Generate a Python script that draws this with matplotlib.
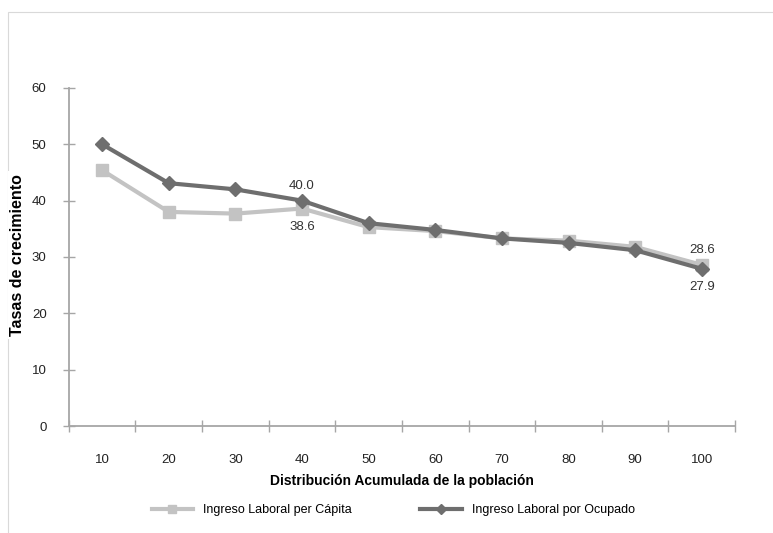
import matplotlib.pyplot as plt
from matplotlib.patches import Rectangle
from matplotlib.ticker import FixedLocator, NullFormatter

# datos
categorias = ["10", "20", "30", "40", "50", "60", "70", "80", "90", "100"]
per_capita = [45.4, 38.0, 37.7, 38.6, 35.3, 34.6, 33.3, 32.9, 31.8, 28.6]
por_ocupado = [50.0, 43.1, 42.0, 40.0, 36.0, 34.8, 33.3, 32.5, 31.2, 27.9]

plt.rcParams['font.family'] = ['Liberation Sans Narrow', 'Liberation Sans', 'DejaVu Sans']

fig = plt.figure(figsize=(7.73, 5.33), dpi=100)
ax = fig.add_axes([0.089, 0.2007, 0.862, 0.6343])

# borde gris del area del grafico
fig.patches.append(Rectangle((8 / 773, -0.1), 1.1, 1 - 12 / 533 + 0.1, transform=fig.transFigure,
                             fill=False, edgecolor='#d9d9d9', linewidth=0.8))

x = list(range(len(categorias)))
light = '#c3c3c3'
dark = '#6e6e6e'
ax.plot(x, per_capita, color=light, linewidth=3, marker='s', markersize=8,
        label='Ingreso Laboral per Cápita', zorder=2)
ax.plot(x, por_ocupado, color=dark, linewidth=3, marker='D', markersize=7,
        label='Ingreso Laboral por Ocupado', zorder=3)

ax.text(3, por_ocupado[3] + 1.6, '40.0', ha='center', va='bottom', fontsize=9.5, color='#333333')
ax.text(3, per_capita[3] - 2.2, '38.6', ha='center', va='top', fontsize=9.5, color='#333333')
ax.text(9, per_capita[9] + 1.6, '28.6', ha='center', va='bottom', fontsize=9.5, color='#333333')
ax.text(9, por_ocupado[9] - 2.2, '27.9', ha='center', va='top', fontsize=9.5, color='#333333')

ax.set_xlim(-0.5, len(categorias) - 0.5)
ax.set_ylim(0, 60)
ax.set_yticks(range(0, 61, 10))

ax.xaxis.set_major_locator(FixedLocator([i - 0.5 for i in range(len(categorias) + 1)]))
ax.xaxis.set_major_formatter(NullFormatter())
ax.xaxis.set_minor_locator(FixedLocator(x))
ax.set_xticklabels(categorias, minor=True)
ax.tick_params(axis='x', which='minor', length=0, pad=20, labelsize=9.5, labelcolor='#222222')
ax.tick_params(axis='x', which='major', direction='inout', length=8, color='#a6a6a6', width=1)
ax.tick_params(axis='y', direction='inout', length=8, color='#a6a6a6', width=1,
               labelsize=9.5, labelcolor='#222222', pad=12)

for s in ['top', 'right']:
    ax.spines[s].set_visible(False)
for s in ['left', 'bottom']:
    ax.spines[s].set_color('#a6a6a6')
    ax.spines[s].set_linewidth(1.3)

ax.set_xlabel('Distribución Acumulada de la población', fontsize=10, fontweight='bold',
              labelpad=6)
ylab = fig.text(18 / 773, 0.5 + (533 / 2 - 255) / 533, 'Tasas de crecimiento', rotation=90,
                ha='center', va='center', fontsize=11.5, fontweight='bold')
ylab.set_bbox(dict(facecolor='white', edgecolor='none', pad=2))

fig.legend(loc='center', bbox_to_anchor=(393 / 773, 0.043), ncol=2, frameon=False,
           fontsize=9, handlelength=3.3, columnspacing=5.5, markerscale=0.7)

fig.savefig('out.png', dpi=100)
